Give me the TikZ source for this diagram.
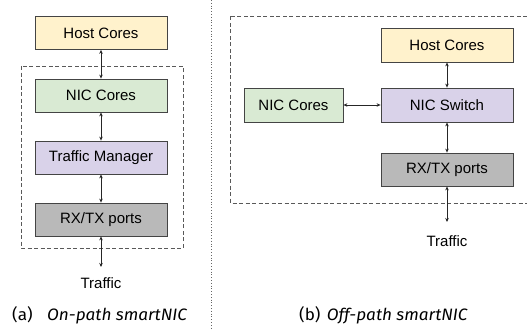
\documentclass[tikz,border=0pt]{standalone}
\usepackage{fontspec}
\setmainfont{Liberation Sans}
\newfontfamily\capfont{Fira Sans}
\usetikzlibrary{arrows.meta}
\definecolor{hostc}{HTML}{FFF2CC}
\definecolor{nicc}{HTML}{D9EAD3}
\definecolor{tmc}{HTML}{D9D2E9}
\definecolor{rxc}{HTML}{B9B9B9}
\definecolor{edgec}{HTML}{444444}
\tikzset{
  blk/.style={draw=edgec, line width=0.8pt, minimum height=33pt, inner sep=0pt, font=\fontsize{15}{15}\selectfont},
  wide/.style={blk, minimum width=132pt},
  conn/.style={{Stealth[length=4pt,width=3.5pt]}-{Stealth[length=4pt,width=3.5pt]}, line width=0.7pt, draw=black!85},
  lbl/.style={inner sep=0pt, font=\fontsize{15}{15}\selectfont},
  grp/.style={draw=black!65, line width=0.8pt, dash pattern=on 4pt off 2.5pt},
  captxt/.style={inner sep=0pt, font=\capfont\fontsize{16.5}{16.5}\selectfont}
}
\begin{document}
\begin{tikzpicture}[x=1pt,y=-1pt]
\clip (0,0) rectangle (527,329);
\fill[white] (0,0) rectangle (527,329);
% left panel
\draw[grp] (21,66) rectangle (183,248);
\node[wide, fill=hostc] (lh) at (101,33) {Host Cores};
\node[wide, fill=nicc] (ln) at (101,95.5) {NIC Cores};
\node[wide, fill=tmc] (lt) at (101,157.5) {Traffic Manager};
\node[wide, fill=rxc] (lr) at (101,219.5) {RX/TX ports};
\coordinate (lend) at (101,267);
\node[lbl] (ltr) at (101,283) {Traffic};
\draw[conn] (lh) -- (ln);
\draw[conn] (ln) -- (lt);
\draw[conn] (lt) -- (lr);
\draw[conn] (lr) -- (lend);
\node[captxt, anchor=base west] (capa) at (12,320) {\scalebox{1.04}[1]{(a)\hspace{14pt}\itshape On-path smartNIC}};
% separator
\draw[black!60, line width=0.8pt, dash pattern=on 0.8pt off 2pt] (211.5,0) -- (211.5,329);
% right panel
\draw[grp] (230.5,16.5) rectangle (540,203);
\node[wide, fill=hostc, minimum height=34pt] (rh) at (447,45) {Host Cores};
\node[wide, fill=tmc, minimum height=34pt] (rs) at (447,105) {NIC Switch};
\node[blk, fill=nicc, minimum width=99pt, minimum height=34pt] (rn) at (293.5,105) {NIC Cores};
\node[wide, fill=rxc] (rr) at (447,169.5) {RX/TX ports};
\coordinate (rend) at (447,222);
\node[lbl] (rtr) at (447,241) {Traffic};
\draw[conn] (rh) -- (rs);
\draw[conn] (rn) -- (rs);
\draw[conn] (rs) -- (rr);
\draw[conn] (rr) -- (rend);
\node[captxt, anchor=base west] (capb) at (299,320) {\scalebox{1.04}[1]{(b)\hspace{6pt}\itshape Off-path smartNIC}};
\end{tikzpicture}
\end{document}
